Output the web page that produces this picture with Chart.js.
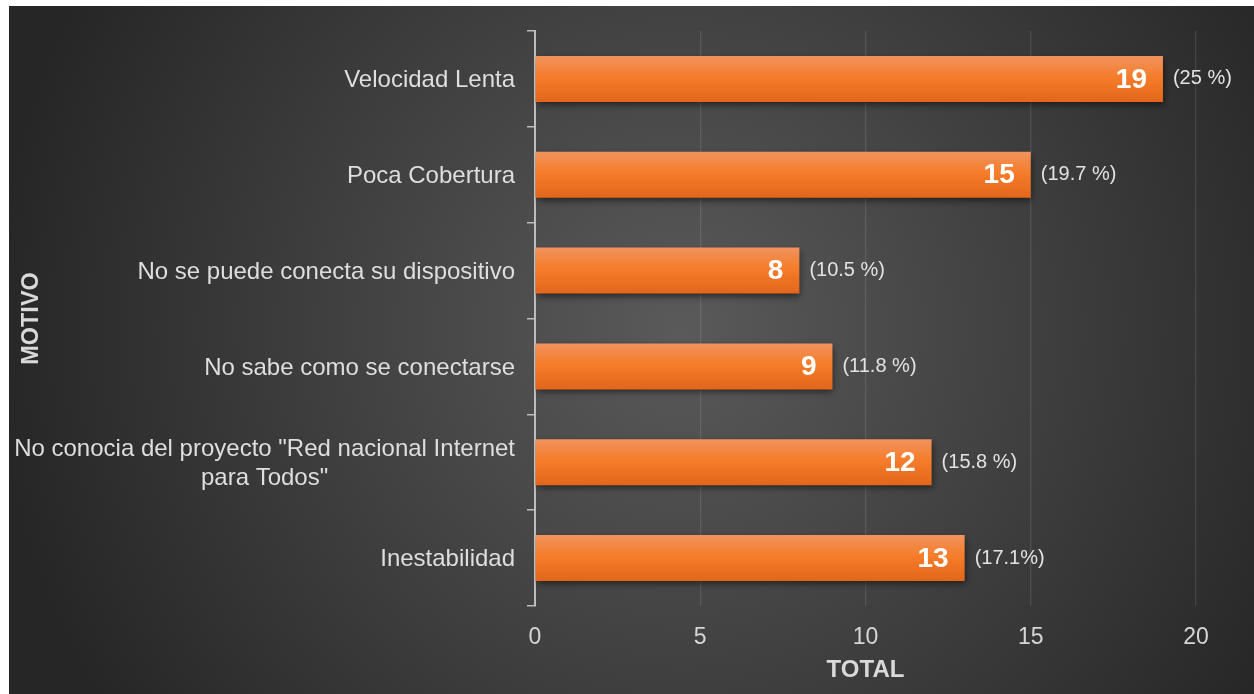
<!DOCTYPE html>
<html lang="es">
<head>
<meta charset="utf-8">
<title>Motivo</title>
<script src="https://cdn.jsdelivr.net/npm/chart.js@4.4.1/dist/chart.umd.min.js"></script>
<style>
  html, body { margin: 0; padding: 0; background: #ffffff; }
  #wrap { position: absolute; left: 9px; top: 6px; width: 1245px; height: 688px; }
</style>
</head>
<body>
<div id="wrap"><canvas id="motivoChart" width="1245" height="688"></canvas></div>
<script>
const categorias = [
  'Velocidad Lenta',
  'Poca Cobertura',
  'No se puede conecta su dispositivo',
  'No sabe como se conectarse',
  ['No conocia del proyecto "Red nacional Internet', 'para Todos"'],
  'Inestabilidad'
];
const totales = [19, 15, 8, 9, 12, 13];
const porcentajes = ['(25 %)', '(19.7 %)', '(10.5 %)', '(11.8 %)', '(15.8 %)', '(17.1%)'];
const ticksX = [0, 5, 10, 15, 20];

const FONT = '"Liberation Sans", Arial, sans-serif';
const BAR_PCT = 0.48;

// fondo oscuro con degradado radial
const fondo = {
  id: 'fondo',
  beforeDraw(chart) {
    const { ctx, width, height } = chart;
    const g = ctx.createRadialGradient(671, 324, 0, 671, 324, 690);
    g.addColorStop(0, '#5a5a5a');
    g.addColorStop(1, '#262626');
    ctx.save();
    ctx.fillStyle = g;
    ctx.fillRect(0, 0, width, height);
    ctx.restore();
  }
};

// sombra de las barras
const sombra = {
  id: 'sombra',
  beforeDatasetsDraw(chart) {
    const ctx = chart.ctx;
    ctx.save();
    ctx.shadowColor = 'rgba(0,0,0,0.55)';
    ctx.shadowBlur = 7;
    ctx.shadowOffsetX = 1;
    ctx.shadowOffsetY = 3;
  },
  afterDatasetsDraw(chart) {
    chart.ctx.restore();
  }
};

// etiquetas de categoría (las de varias líneas van centradas entre sí)
const etiquetasY = {
  id: 'etiquetasY',
  afterDraw(chart) {
    const { ctx } = chart;
    const y = chart.scales.y;
    const right = y.right - 20;
    ctx.save();
    ctx.font = '24px ' + FONT;
    ctx.fillStyle = '#dedede';
    ctx.textBaseline = 'middle';
    ctx.textAlign = 'center';
    const lh = 29;
    categorias.forEach((cat, i) => {
      const lineas = Array.isArray(cat) ? cat : [cat];
      const cy = y.getPixelForValue(i) + 1.5;
      const ancho = Math.max(...lineas.map(l => ctx.measureText(l).width));
      const cx = right - ancho / 2;
      lineas.forEach((l, k) => {
        ctx.fillText(l, cx, cy + (k - (lineas.length - 1) / 2) * lh);
      });
    });
    ctx.restore();
  }
};

// valores dentro de la barra y porcentaje a la derecha
const valores = {
  id: 'valores',
  afterDatasetsDraw(chart) {
    const { ctx } = chart;
    const meta = chart.getDatasetMeta(0);
    ctx.save();
    ctx.textBaseline = 'middle';
    meta.data.forEach((bar, i) => {
      ctx.font = 'bold 28px ' + FONT;
      ctx.fillStyle = '#ffffff';
      ctx.textAlign = 'right';
      ctx.fillText(String(totales[i]), bar.x - 16, bar.y + 1);
      ctx.font = '20px ' + FONT;
      ctx.fillStyle = '#e2e2e2';
      ctx.textAlign = 'left';
      ctx.fillText(porcentajes[i], bar.x + 10, bar.y);
    });
    ctx.restore();
  }
};

function rellenoBarra(c) {
  const chart = c.chart;
  const y = chart.scales.y;
  if (!y || y.top === undefined) return '#f47b2a';
  const centro = y.getPixelForValue(c.dataIndex);
  const paso = Math.abs(y.getPixelForValue(1) - y.getPixelForValue(0));
  const mitad = paso * BAR_PCT / 2;
  const g = chart.ctx.createLinearGradient(0, centro - mitad, 0, centro + mitad);
  g.addColorStop(0, '#f1935e');
  g.addColorStop(0.45, '#f57d2b');
  g.addColorStop(1, '#e3661a');
  return g;
}

const ctx = document.getElementById('motivoChart').getContext('2d');
const motivoChart = new Chart(ctx, {
  type: 'bar',
  data: {
    labels: categorias,
    datasets: [{
      label: 'Total',
      data: totales,
      backgroundColor: rellenoBarra,
      borderWidth: 0,
      barPercentage: BAR_PCT,
      categoryPercentage: 1
    }]
  },
  options: {
    indexAxis: 'y',
    responsive: false,
    animation: false,
    devicePixelRatio: 1,
    layout: { padding: { top: 25, right: 58, left: 0, bottom: 0 } },
    plugins: {
      legend: { display: false },
      tooltip: { enabled: false }
    },
    scales: {
      x: {
        min: 0,
        max: 20,
        afterFit(s) { s.height = 88; },
        afterBuildTicks(s) { s.ticks = ticksX.map(v => ({ value: v })); },
        grid: {
          color: 'rgba(255,255,255,0.11)',
          lineWidth: 1.3,
          drawTicks: false
        },
        border: { display: false },
        ticks: {
          color: '#d6d6d6',
          font: { family: FONT, size: 23 },
          padding: 18
        },
        title: {
          display: true,
          text: 'TOTAL',
          color: '#d9d9d9',
          font: { family: FONT, size: 24, weight: 'bold' },
          padding: { top: 0, bottom: 9 }
        }
      },
      y: {
        afterFit(s) { s.width = 526; },
        grid: {
          drawOnChartArea: false,
          drawTicks: true,
          tickLength: 8,
          color: '#bdbdbd',
          lineWidth: 1.5
        },
        border: { display: true, color: '#bdbdbd', width: 2 },
        ticks: { display: false },
        title: {
          display: true,
          text: 'MOTIVO',
          color: '#d9d9d9',
          font: { family: FONT, size: 23.5, weight: 'bold' },
          padding: { top: 8, bottom: 0 }
        }
      }
    }
  },
  plugins: [fondo, sombra, valores, etiquetasY]
});
</script>
</body>
</html>
